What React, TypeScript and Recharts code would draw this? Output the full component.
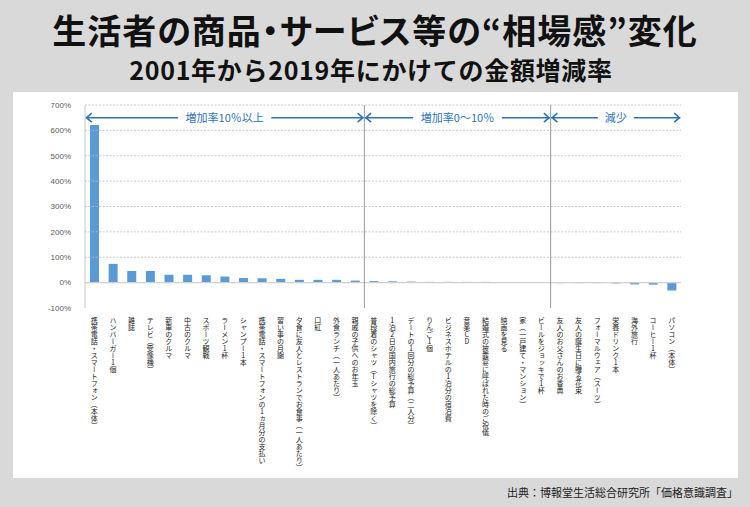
import { BarChart, Bar, XAxis, YAxis, ReferenceLine } from "recharts";

const categories = [
  "携帯電話・スマートフォン（本体）",
  "ハンバーガー1個",
  "雑誌",
  "テレビ（受像機）",
  "新車のクルマ",
  "中古のクルマ",
  "スポーツ観戦",
  "ラーメン1杯",
  "シャンプー1本",
  "携帯電話・スマートフォンの1ヵ月分の支払い",
  "習い事の月謝",
  "夕食に友人とレストランでお食事（一人あたり）",
  "口紅",
  "外食ランチ（一人あたり）",
  "親戚の子供へのお年玉",
  "普段着のシャツ（Tシャツを除く）",
  "1泊2日の国内旅行の総予算",
  "デートの1回分の総予算（二人分）",
  "りんご1個",
  "ビジネスホテルの1泊分の宿泊費",
  "音楽CD",
  "結婚式の披露宴に呼ばれた時のご祝儀",
  "映画を見る",
  "家（一戸建て・マンション）",
  "ビールをジョッキで1杯",
  "友人のお父さんのお香典",
  "友人の誕生日に贈る花束",
  "フォーマルウェア（スーツ）",
  "栄養ドリンク1本",
  "海外旅行",
  "コーヒー1杯",
  "パソコン（本体）",
];

const changeRates = [
  621, 74, 46, 46, 31, 31, 29, 24, 18, 17, 15, 11, 11, 11, 8,
  6, 5, 4, 3, 3, 3, 3, 2, 1, 1,
  -2, -2, -2, -3, -7, -8, -31,
];

const yTicks = [-100, 0, 100, 200, 300, 400, 500, 600, 700];
const gridValues = [100, 200, 300, 400, 500, 600, 700];

// groups: label, first index, end index (exclusive)
const groupLabels = ["増加率10％以上", "増加率0〜10％", "減少"];
const groupStarts = [0, 15, 25];
const groupEnds = [15, 25, 32];
const dividers = [15, 25];

// pos = centre of each category band on a 0..n numeric scale
const data = categories.map((name, i) => ({ name, value: changeRates[i], pos: i + 0.5 }));

const BLUE = "#2e74b5";

function textWidth(s: string, size: number) {
  let w = 0;
  for (const ch of s) w += ch.charCodeAt(0) < 0x2000 ? size * 0.6 : size;
  return w;
}

function arrowShape(label: string) {
  return (props: any) => {
    const { x1, x2, y1 } = props;
    const mid = (x1 + x2) / 2;
    const tw = textWidth(label, 11) + 14;
    return (
      <g>
        <line x1={x1} y1={y1} x2={x2} y2={y1} stroke={BLUE} strokeWidth={1.6} />
        <polyline
          points={`${x1 + 6},${y1 - 4.5} ${x1 + 0.8},${y1} ${x1 + 6},${y1 + 4.5}`}
          fill="none"
          stroke={BLUE}
          strokeWidth={1.6}
        />
        <polyline
          points={`${x2 - 6},${y1 - 4.5} ${x2 - 0.8},${y1} ${x2 - 6},${y1 + 4.5}`}
          fill="none"
          stroke={BLUE}
          strokeWidth={1.6}
        />
        <rect x={mid - tw / 2} y={y1 - 7} width={tw} height={14} fill="#fff" />
        <text
          x={mid}
          y={y1 + 4}
          textAnchor="middle"
          fontSize={11}
          fill={BLUE}
          fontFamily="'Noto Sans CJK JP', sans-serif"
        >
          {label}
        </text>
      </g>
    );
  };
}

function VerticalTick(props: any) {
  const { x, y, payload } = props;
  return (
    <text
      x={x}
      y={y + 3}
      fontSize={7}
      fill="#222"
      fontFamily="'Noto Sans CJK JP', sans-serif"
      style={{ writingMode: "vertical-rl", textOrientation: "upright" } as any}
    >
      {payload.value}
    </text>
  );
}

export default function App() {
  return (
    <div
      style={{
        position: "absolute",
        left: 0,
        top: 0,
        width: 750,
        height: 507,
        background: "#d9d9d9",
        fontFamily: "'Noto Sans CJK JP', sans-serif",
        overflow: "hidden",
      }}
    >
      <div
        style={{
          position: "absolute",
          left: 0,
          top: 6,
          width: 750,
          textAlign: "center",
          fontSize: 34,
          fontWeight: 700,
          color: "#111",
          lineHeight: "48px",
          fontFeatureSettings: '"palt"',
          letterSpacing: 1,
        }}
      >
        生活者の商品・サービス等の“相場感”変化
      </div>
      <div
        style={{
          position: "absolute",
          left: 0,
          top: 52,
          width: 742,
          textAlign: "center",
          fontSize: 25,
          fontWeight: 700,
          color: "#111",
          lineHeight: "34px",
          letterSpacing: 0.7,
        }}
      >
        2001年から2019年にかけての金額増減率
      </div>
      <div
        style={{
          position: "absolute",
          left: 13,
          top: 92,
          width: 725,
          height: 386,
          background: "#fff",
        }}
      >
        <BarChart
          width={725}
          height={386}
          data={data}
          margin={{ top: 13, right: 57, left: 0, bottom: 0 }}
        >
          <XAxis
            dataKey="name"
            interval={0}
            axisLine={false}
            tickLine={false}
            tickMargin={0}
            height={170}
            tick={<VerticalTick />}
          />
          <XAxis
            xAxisId="n"
            dataKey="pos"
            type="number"
            domain={[0, categories.length]}
            allowDataOverflow
            hide
          />
          <YAxis
            width={72}
            domain={[-100, 700]}
            ticks={yTicks}
            interval={0}
            tickFormatter={(v: number) => `${v}%`}
            tick={{ fontSize: 8, fill: "#595959", fontFamily: "'Liberation Sans', sans-serif" }}
            tickLine={false}
            tickMargin={8}
            axisLine={{ stroke: "#c8c8c8" }}
          />
          {gridValues.map((v) => (
            <ReferenceLine
              key={v}
              y={v}
              stroke="#bdbdbd"
              strokeDasharray="2 1.5"
              strokeWidth={0.8}
            />
          ))}
          <ReferenceLine y={0} stroke="#d0d0d0" strokeWidth={1.2} />
          {dividers.map((d) => (
            <ReferenceLine key={d} xAxisId="n" x={d} stroke="#9a9a9a" strokeWidth={1} />
          ))}
          <Bar dataKey="value" fill="#5b9bd5" barSize={9} isAnimationActive={false} />
          {groupLabels.map((g, i) => (
            <ReferenceLine
              key={g}
              xAxisId="n"
              ifOverflow="extendDomain"
              segment={[
                { x: groupStarts[i] + 0.04, y: 650 },
                { x: groupEnds[i] - 0.04, y: 650 },
              ]}
              shape={arrowShape(g)}
            />
          ))}
        </BarChart>
      </div>
      <div
        style={{
          position: "absolute",
          right: 12,
          top: 483,
          fontSize: 11,
          color: "#222",
          lineHeight: "18px",
        }}
      >
        出典：博報堂生活総合研究所「価格意識調査」
      </div>
    </div>
  );
}
